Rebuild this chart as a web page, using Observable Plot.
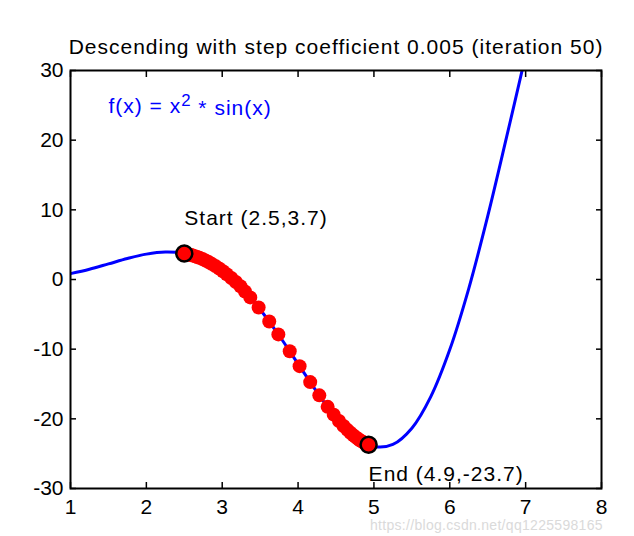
<!DOCTYPE html>
<html>
<head>
<meta charset="utf-8">
<script src="https://cdn.jsdelivr.net/npm/d3@7"></script>
<script src="https://cdn.jsdelivr.net/npm/@observablehq/plot@0.6"></script>
<style>
  html, body { margin: 0; padding: 0; background: #ffffff; }
  #chart { position: relative; width: 634px; height: 536px; }
  #wm { position: absolute; left: 370px; top: 517px; font: 14px "Liberation Sans", Arial, sans-serif; color: #dadada; white-space: nowrap; letter-spacing: 0.3px; }
</style>
</head>
<body>
<div id="chart"></div>
<script>
// ---- data ----
const titleText = "Descending with step coefficient 0.005 (iteration 50)";
const formulaText = "f(x) = x^2 * sin(x)";
const startLabel = "Start (2.5,3.7)";
const endLabel = "End (4.9,-23.7)";
const watermark = "https://blog.csdn.net/qq1225598165";

const xTicks = [1, 2, 3, 4, 5, 6, 7, 8];
const yTicks = [-30, -20, -10, 0, 10, 20, 30];

// blue curve, values
const curveX = [1, 1.25, 1.5, 1.75, 2, 2.25, 2.5, 2.75, 3, 3.25, 3.5, 3.75, 4, 4.25, 4.5, 4.75, 5, 5.25, 5.5, 5.75, 6, 6.25, 6.5, 6.75, 7];
const curveY = [0.84, 1.48, 2.24, 3.01, 3.64, 3.94, 3.74, 2.89, 1.27, -1.14, -4.30, -8.04, -12.11, -16.17, -19.80, -22.55, -23.97, -23.67, -21.34, -16.81, -10.06, -1.30, 9.09, 20.50, 32.19];

// red descent iterates
const stepX = [2.50, 2.51, 2.52, 2.53, 2.55, 2.57, 2.59, 2.61, 2.64, 2.67, 2.70, 2.74, 2.78, 2.82, 2.86, 2.91, 2.96, 3.01, 3.06, 3.12, 3.18, 3.24, 3.30, 3.37, 3.48, 3.62, 3.74, 3.89, 4.02, 4.16, 4.28, 4.39, 4.47, 4.54, 4.60, 4.65, 4.69, 4.73, 4.76, 4.79, 4.81, 4.83, 4.85, 4.87, 4.88, 4.89, 4.90, 4.91, 4.92, 4.93];
const stepY = [3.74, 3.72, 3.70, 3.68, 3.63, 3.57, 3.52, 3.45, 3.35, 3.24, 3.12, 2.94, 2.73, 2.51, 2.27, 1.94, 1.58, 1.19, 0.76, 0.22, -0.36, -0.96, -1.72, -2.57, -4.02, -6.03, -7.88, -10.30, -12.44, -14.73, -16.63, -18.28, -19.40, -20.31, -21.03, -21.58, -21.99, -22.37, -22.63, -22.88, -23.03, -23.17, -23.30, -23.42, -23.48, -23.53, -23.59, -23.63, -23.68, -23.72];

const startPt = {x: 2.50, y: 3.74};
const endPt = {x: 4.93, y: -23.72};

const curve = curveX.map((x, i) => ({x, y: curveY[i]}));
const steps = stepX.map((x, i) => ({x, y: stepY[i]}));

const font = '"Liberation Sans", Arial, sans-serif';
const fmt = d => String(d);

const plot = Plot.plot({
  width: 634,
  height: 536,
  marginLeft: 70,
  marginRight: 33,
  marginTop: 70,
  marginBottom: 48,
  style: {fontFamily: font, fontSize: "21px", background: "transparent", color: "#000"},
  x: {domain: [1, 8], ticks: xTicks, label: null},
  y: {domain: [-30, 30], ticks: yTicks, label: null},
  marks: [
    Plot.line(curve, {x: "x", y: "y", stroke: "#0000ff", strokeWidth: 3, curve: "catmull-rom", clip: true}),
    Plot.dot(steps, {x: "x", y: "y", r: 7, fill: "#ff0000", stroke: "none"}),
    Plot.dot([startPt, endPt], {x: "x", y: "y", r: 8, fill: "#ff0000", stroke: "#000", strokeWidth: 2.5}),
    Plot.text([formulaText], {x: 1.5, y: 24.8, text: d => d, textAnchor: "start", fill: "#0000ff", fontSize: 21}),
    Plot.text([startLabel], {x: startPt.x, y: 8.8, text: d => d, textAnchor: "start", fill: "#000", fontSize: 21}),
    Plot.text([endLabel], {x: endPt.x, y: -28.0, text: d => d, textAnchor: "start", fill: "#000", fontSize: 21}),
    Plot.text([titleText], {frameAnchor: "top", dy: -31, text: d => d, fill: "#000", fontSize: 21}),
    Plot.axisX({anchor: "bottom", ticks: xTicks, tickSize: 0, tickPadding: 11, tickFormat: fmt, fontSize: 21}),
    Plot.axisY({anchor: "left", ticks: yTicks, tickSize: 0, tickPadding: 7, tickFormat: fmt, fontSize: 21}),
    Plot.axisX({anchor: "bottom", ticks: xTicks, tickSize: -6, tickFormat: () => "", strokeWidth: 1.5}),
    Plot.axisX({anchor: "top", ticks: xTicks, tickSize: -6, tickFormat: () => "", strokeWidth: 1.5}),
    Plot.axisY({anchor: "left", ticks: yTicks, tickSize: -6, tickFormat: () => "", strokeWidth: 1.5}),
    Plot.axisY({anchor: "right", ticks: yTicks, tickSize: -6, tickFormat: () => "", strokeWidth: 1.5}),
    Plot.frame({stroke: "#000", strokeWidth: 2})
  ]
});

const labelTexts = [titleText, formulaText, startLabel, endLabel];
d3.select(plot).selectAll("text")
  .filter(function() { return labelTexts.includes(this.textContent); })
  .attr("letter-spacing", "1px");

// superscript 2 in the formula label
d3.select(plot).selectAll("text").filter(function() { return this.textContent === formulaText; })
  .each(function() {
    const t = d3.select(this);
    t.text(null);
    t.append("tspan").text("f(x) = x");
    t.append("tspan").attr("dy", "-0.45em").attr("font-size", "0.8em").text("2");
    t.append("tspan").attr("dy", "0.45em").text(" * sin(x)");
  });

const chart = document.getElementById("chart");
chart.appendChild(plot);
const wm = document.createElement("div");
wm.id = "wm";
wm.textContent = watermark;
chart.appendChild(wm);
</script>
</body>
</html>
